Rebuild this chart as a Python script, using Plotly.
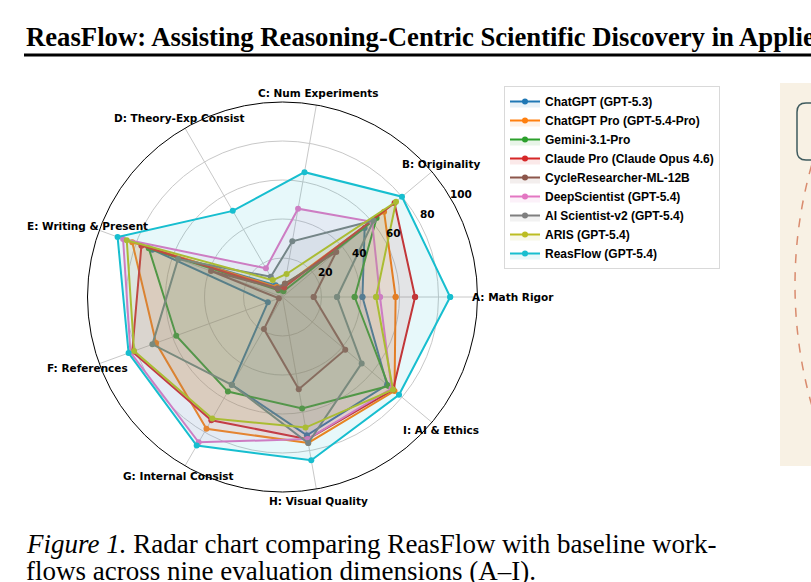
import math
import plotly.graph_objects as go

W, H = 811, 582

# ---------------- data ----------------
axis_keys = ["A", "B", "C", "D", "E", "F", "G", "H", "I"]
axis_labels = ["A: Math Rigor", "B: Originality", "C: Num Experiments",
               "D: Theory-Exp Consist", "E: Writing & Present", "F: References",
               "G: Internal Consist", "H: Visual Quality", "I: AI & Ethics"]
series_names = ["ChatGPT (GPT-5.3)", "ChatGPT Pro (GPT-5.4-Pro)", "Gemini-3.1-Pro",
                "Claude Pro (Claude Opus 4.6)", "CycleResearcher-ML-12B",
                "DeepScientist (GPT-5.4)", "AI Scientist-v2 (GPT-5.4)",
                "ARIS (GPT-5.4)", "ReasFlow (GPT-5.4)"]
chatgpt         = [41, 55, 6, 7, 71, 8, 52, 72, 70]
chatgpt_pro     = [58, 68, 6, 6, 82, 69, 78, 76, 75]
gemini          = [37, 63, 3, 4, 73, 58, 56, 58, 71]
claude_pro      = [68, 75, 5, 5, 77, 82, 73, 74, 74]
cycleresearcher = [16, 36, 7, 5, 39, 2, 19, 48, 42]
deepscientist   = [50, 60, 46, 17, 87, 83, 86, 74, 73]
ai_scientist    = [28, 61, 29, 12, 57, 71, 52, 76, 53]
aris            = [48, 76, 12, 10, 85, 81, 72, 68, 74]
reasflow        = [86, 80, 65, 51, 90, 84, 88, 85, 78]
radial_ticks = [20, 40, 60, 80, 100]

series_values = [chatgpt, chatgpt_pro, gemini, claude_pro, cycleresearcher,
                 deepscientist, ai_scientist, aris, reasflow]
colors = ["#1f77b4", "#ff7f0e", "#2ca02c", "#d62728", "#8c564b",
          "#e377c2", "#7f7f7f", "#bcbd22", "#17becf"]

# ---------------- layout geometry (pixels) ----------------
CX, CY, R = 282.5, 297.0, 195.0
RMAX = 100.0


def px(x):
    return x / W


def py(y):
    return 1 - y / H


def rgba(hexc, a):
    h = hexc.lstrip("#")
    return "rgba(%d,%d,%d,%.2f)" % (int(h[0:2], 16), int(h[2:4], 16), int(h[4:6], 16), a)


fig = go.Figure()
for name, vals, col in zip(series_names, series_values, colors):
    fig.add_trace(go.Scatterpolar(
        r=vals + [vals[0]], theta=axis_keys + [axis_keys[0]],
        mode="lines+markers", name=name, fill="toself",
        fillcolor=rgba(col, 0.10),
        line=dict(color=col, width=2), marker=dict(color=col, size=6),
    ))

grid = "#c8c8c8"
fig.update_layout(
    width=W, height=H, margin=dict(l=0, r=0, t=0, b=0),
    paper_bgcolor="white", plot_bgcolor="white",
    polar=dict(
        domain=dict(x=[px(CX - R), px(CX + R)], y=[py(CY + R), py(CY - R)]),
        bgcolor="white",
        angularaxis=dict(type="category", categoryarray=axis_keys,
                         rotation=0, direction="counterclockwise",
                         showline=True, linecolor="black", linewidth=1,
                         gridcolor=grid, gridwidth=0.8,
                         showticklabels=False, ticks=""),
        radialaxis=dict(range=[0, RMAX], tickvals=radial_ticks,
                        showline=False, gridcolor=grid, gridwidth=0.8,
                        angle=22.5, ticks="", showticklabels=False),
    ),
    legend=dict(x=px(504), y=py(86), xanchor="left", yanchor="top",
                bgcolor="white", bordercolor="#d9d9d9", borderwidth=1,
                font=dict(family="Liberation Sans, Arial", size=12, color="black", weight="bold"),
                itemwidth=30),
    showlegend=True,
)

annots = []
lab_font = dict(family="DejaVu Sans", size=10.5, color="black", weight="bold")
# angular labels around the circle
RL = 207.0
for i, lab in enumerate(axis_labels):
    ang = math.radians(40 * i)
    if i == 0:
        x, anchor = 470, "left"
        y = CY
    else:
        x = CX + RL * math.cos(ang)
        y = CY - RL * math.sin(ang)
        anchor = "center"
    annots.append(dict(x=px(x), y=py(y), xref="paper", yref="paper", text=lab,
                       showarrow=False, xanchor=anchor, yanchor="middle", font=lab_font))

# radial tick labels along the 30-degree direction (as in the reference)
RA = math.radians(30)
for t in radial_ticks:
    d = t / RMAX * R + 11
    annots.append(dict(x=px(CX + d * math.cos(RA)), y=py(CY - d * math.sin(RA)),
                       xref="paper", yref="paper", text=str(t), showarrow=False,
                       xanchor="center", yanchor="middle",
                       font=dict(family="DejaVu Sans", size=10.5, color="black", weight="bold")))

# page header and caption
annots.append(dict(x=px(24), y=py(37), xref="paper", yref="paper",
                   text="<b>ReasFlow: Assisting Reasoning-Centric Scientific Discovery in Applied</b>",
                   showarrow=False, xanchor="left", yanchor="middle",
                   font=dict(family="Liberation Serif", size=26.7, color="black")))
annots.append(dict(x=px(24), y=py(544), xref="paper", yref="paper",
                   text="<i>Figure 1.</i> Radar chart comparing ReasFlow with baseline work-",
                   showarrow=False, xanchor="left", yanchor="middle",
                   font=dict(family="Liberation Serif", size=27, color="black")))
annots.append(dict(x=px(24), y=py(571), xref="paper", yref="paper",
                   text="flows across nine evaluation dimensions (A–I).",
                   showarrow=False, xanchor="left", yanchor="middle",
                   font=dict(family="Liberation Serif", size=27, color="black")))
fig.update_layout(annotations=annots)

shapes = [
    dict(type="line", xref="paper", yref="paper", x0=px(24), x1=1.0, y0=py(55), y1=py(55),
         line=dict(color="black", width=3)),
    dict(type="rect", xref="paper", yref="paper", x0=px(780), x1=px(830), y0=py(466), y1=py(83),
         fillcolor="#f8f1e4", line=dict(width=0), layer="below"),
    dict(type="path", xref="paper", yref="paper",
         path="M %f,%f L %f,%f Q %f,%f %f,%f L %f,%f Q %f,%f %f,%f L %f,%f" % (
             px(840), py(103), px(806), py(103), px(797), py(103), px(797), py(112),
             px(797), py(151), px(797), py(160), px(806), py(160), px(840), py(160)),
         line=dict(color="#3f5b5e", width=1.5)),
    dict(type="circle", xref="paper", yref="paper",
         x0=px(1235 - 440), x1=px(1235 + 440), y0=py(285 + 440), y1=py(285 - 440),
         line=dict(color="#d98b6e", width=1.5, dash="dash")),
]
fig.update_layout(shapes=shapes)

fig.write_html("out.html", config={"displayModeBar": False},
               post_script="document.body.style.margin='0';document.body.style.overflow='hidden';")
